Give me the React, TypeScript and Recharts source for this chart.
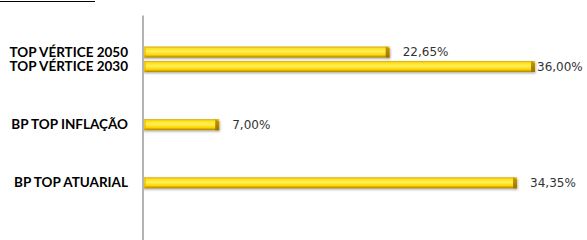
import { BarChart, Bar, XAxis, YAxis, LabelList } from 'recharts'

const categories = [
  '', '', 'TOP VÉRTICE 2050', 'TOP VÉRTICE 2030', '', '', '',
  'BP TOP INFLAÇÃO', '', '', '', 'BP TOP ATUARIAL', '', '', '', '',
]
const values: (number | null)[] = [
  null, null, 22.65, 36.0, null, null, null,
  7.0, null, null, null, 34.35, null, null, null, null,
]

const data = categories.map((name, i) => ({ name, value: values[i] }))

const WIDTH = 587
const AXIS_COLOR = '#B3B3B3'
const LABEL_COLOR = '#333333'

const fmt = (v: number) => v.toFixed(2).replace('.', ',') + '%'

// bar with a little bevel on the right end, like the office 3d style
const GoldBar = (props: any) => {
  const { x, y, width, height } = props
  if (!width || width <= 0) return null
  const cap = Math.min(4, width)
  return (
    <g filter="url(#barShadow)">
      <rect x={x} y={y} width={width} height={height} fill="url(#gold)" />
      <path
        d={`M${x + width - cap},${y} L${x + width},${y + 2} L${x + width},${y + height} L${x + width - cap},${y + height} Z`}
        fill="url(#goldEnd)"
      />
      <path d={`M${x},${y} L${x + 3},${y + 2} L${x + 3},${y + height} L${x},${y + height} Z`} fill="#E8B800" opacity={0.6} />
    </g>
  )
}

const ValueLabel = (props: any) => {
  const { x, y, width, height, value } = props
  if (value == null) return null
  const text = fmt(value)
  const tx = Math.min(x + width + 13, WIDTH - 50)
  return (
    <text x={tx} y={y + height / 2} dy={4} fill={LABEL_COLOR} fontSize={12} fontFamily="DejaVu Sans">
      {text}
    </text>
  )
}

export default function App() {
  return (
    <div style={{ position: 'absolute', left: 0, top: 0, width: WIDTH, height: 240, overflow: 'hidden', background: '#fff' }}>
      <div style={{ position: 'absolute', left: 0, top: 1, width: 95, height: 1, background: '#000' }} />
      <BarChart
        width={WIDTH}
        height={248}
        data={data}
        layout="vertical"
        margin={{ top: 15.5, right: 8.4, left: 0, bottom: 0 }}
      >
        <defs>
          <linearGradient id="gold" x1="0" y1="0" x2="0" y2="1">
            <stop offset="0%" stopColor="#D4A200" />
            <stop offset="15%" stopColor="#FFDF1A" />
            <stop offset="45%" stopColor="#FFF15C" />
            <stop offset="75%" stopColor="#FFD500" />
            <stop offset="100%" stopColor="#A87E00" />
          </linearGradient>
          <linearGradient id="goldEnd" x1="0" y1="0" x2="0" y2="1">
            <stop offset="0%" stopColor="#C99800" />
            <stop offset="100%" stopColor="#9A7400" />
          </linearGradient>
          <filter id="barShadow" x="-5%" y="-30%" width="110%" height="180%">
            <feDropShadow dx="0.5" dy="1.2" stdDeviation="0.8" floodColor="#000" floodOpacity="0.35" />
          </filter>
        </defs>
        <XAxis type="number" domain={[0, 40]} hide />
        <YAxis
          type="category"
          dataKey="name"
          width={143}
          tickLine={false}
          tickSize={0}
          tickMargin={15}
          interval={0}
          axisLine={{ stroke: AXIS_COLOR, strokeWidth: 2 }}
          tick={{ fontSize: 13.5, fontWeight: 700, fill: '#000', fontFamily: 'Lato' }}
        />
        <Bar dataKey="value" barSize={11} shape={GoldBar} isAnimationActive={false}>
          <LabelList dataKey="value" content={ValueLabel} />
        </Bar>
      </BarChart>
    </div>
  )
}
